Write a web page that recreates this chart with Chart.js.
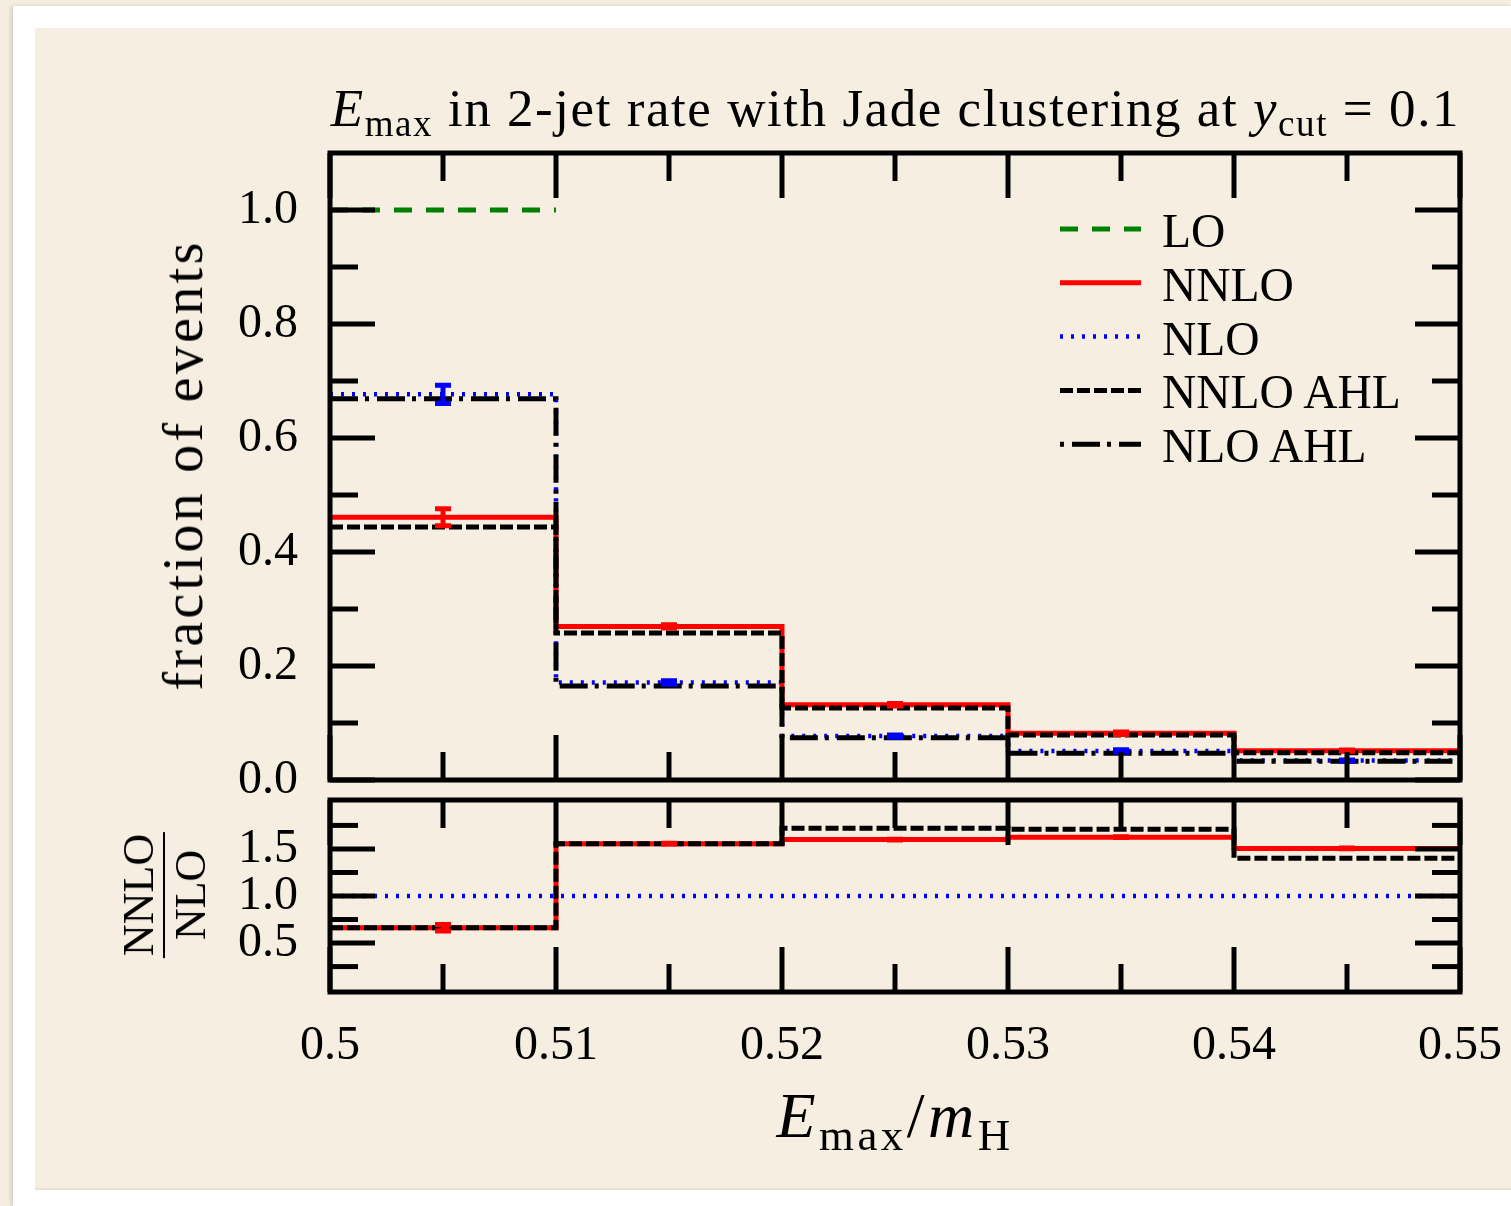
<!DOCTYPE html>
<html><head><meta charset="utf-8">
<script src="https://cdn.jsdelivr.net/npm/chart.js@4.4.1/dist/chart.umd.min.js"></script>
<style>
html,body{margin:0;padding:0;}
body{width:1511px;height:1206px;background:#f5eee0;position:relative;overflow:hidden;font-family:"Liberation Serif","DejaVu Serif",serif;color:#000;}
#frame{position:absolute;left:13px;top:6px;width:1498px;height:1200px;background:#fff;box-shadow:-2px 0 4px rgba(0,0,0,0.15);}
#panel{position:absolute;left:35px;top:28px;width:1476px;height:1160px;background:#f6efe1;border-bottom:2px solid #e9e1d3;}
canvas{position:absolute;left:0;}
#cMain{top:0;}
#cRatio{top:790px;}
.txt{position:absolute;white-space:nowrap;line-height:1;}
#title{right:51px;top:82px;font-size:53px;letter-spacing:1.55px;}
#title sub, #xlab sub{font-size:0.7em;vertical-align:-0.28em;line-height:0;}
#ylab{left:183px;top:465px;font-size:56px;letter-spacing:3.3px;transform:translate(-50%,-50%) rotate(-90deg);}
#rlab{left:165px;top:895px;font-size:44px;transform:translate(-50%,-50%) rotate(-90deg);text-align:center;}
#rlab .num{display:block;padding:0 2px 2px 2px;border-bottom:2px solid #000;}
#rlab .den{display:block;padding-top:4px;}
#xlab{left:895px;top:1084px;font-size:64px;letter-spacing:3.5px;transform:translateX(-50%);}
.leg{position:absolute;left:1162px;font-size:47.5px;white-space:nowrap;line-height:1;}
</style>
</head><body>
<div id="frame"></div>
<div id="panel"></div>
<canvas id="cMain" width="1511" height="830"></canvas>
<canvas id="cRatio" width="1511" height="416"></canvas>
<div class="txt" id="title"><i>E</i><sub>max</sub> in 2-jet rate with Jade clustering at <i>y</i><sub>cut</sub> = 0.1</div>
<div class="txt" id="ylab">fraction of events</div>
<div class="txt" id="rlab"><span class="num">NNLO</span><span class="den">NLO</span></div>
<div class="txt" id="xlab"><i>E</i><sub>max</sub>/<i>m</i><sub>H</sub></div>
<div id="legendBox"></div>
<script>
// ---------------- data ----------------
const binEdges = [0.50, 0.51, 0.52, 0.53, 0.54, 0.55];
const xTickLabels = ['0.5', '0.51', '0.52', '0.53', '0.54', '0.55'];

const LO       = [1.0, null, null, null, null];
const NNLO     = [0.461, 0.2695, 0.132, 0.082, 0.0515];
const NLO      = [0.6766, 0.171, 0.077, 0.051, 0.034];
const NNLO_AHL = [0.444, 0.258, 0.1265, 0.079, 0.048];
const NLO_AHL  = [0.669, 0.165, 0.074, 0.047, 0.033];
const NNLO_err = [0.015, 0.003, 0.002, 0.002, 0.001];
const NLO_err  = [0.016, 0.003, 0.002, 0.002, 0.001];

const ratioNLO      = [1.0, 1.0, 1.0, 1.0, 1.0];
const ratioNNLO     = [0.663, 1.556, 1.60, 1.625, 1.505];
const ratioNNLO_AHL = [0.663, 1.556, 1.72, 1.71, 1.40];
const ratioNNLO_err = [0.035, 0.004, 0.004, 0.004, 0.004];

const mainYTicks  = [0.0, 0.2, 0.4, 0.6, 0.8, 1.0];
const mainYLabels = ['0.0', '0.2', '0.4', '0.6', '0.8', '1.0'];
const mainYMinor  = [0.1, 0.3, 0.5, 0.7, 0.9];
const ratioYTicks  = [0.5, 1.0, 1.5];
const ratioYLabels = ['0.5', '1.0', '1.5'];
const ratioYMinor  = [0.25, 0.75, 1.25, 1.75];

const legendLabels = ['LO', 'NNLO', 'NLO', 'NNLO AHL', 'NLO AHL'];

// ---------------- styles ----------------
const ST = {
  LO:       {color: '#008000', dash: [18, 14], width: 5, off: 0},
  NNLO:     {color: '#ff0000', dash: [], width: 5, off: 0},
  NLO:      {color: '#0000ff', dash: [3, 8], width: 4.5, off: 0},
  NNLO_AHL: {color: '#000000', dash: [13, 4], width: 5, off: 0},
  NLO_AHL:  {color: '#000000', dash: [28, 7, 4, 8], width: 5, off: 35}
};
const FONT = 'Liberation Serif';
const binCenters = binEdges.slice(0, -1).map((e, i) => (e + binEdges[i + 1]) / 2);

function hist(vals) {
  const pts = [];
  vals.forEach((v, i) => { pts.push({x: binEdges[i], y: v}, {x: binEdges[i + 1], y: v}); });
  return pts;
}
function ds(label, vals, st, order, err) {
  return {label, data: hist(vals), borderColor: st.color, borderWidth: st.width, borderDash: st.dash,
    borderDashOffset: st.dashOffset || 0, borderCapStyle: 'butt', borderJoinStyle: 'miter', pointRadius: 0, fill: false,
    tension: 0, order, errors: err || null};
}

const MAJ = 45, MIN = 28, TW = 5;
const framePlugin = {
  id: 'frameTicks',
  afterDatasetsDraw(chart, args, o) {
    const {ctx, chartArea: a, scales: {x, y}} = chart;
    ctx.save();
    // error bars
    chart.data.datasets.forEach(d => {
      if (!d.errors) return;
      const vals = o.values[d.label];
      ctx.strokeStyle = d.borderColor; ctx.setLineDash([]);
      binCenters.forEach((c, i) => {
        if (vals[i] == null) return;
        const px = x.getPixelForValue(c);
        const y1 = y.getPixelForValue(vals[i] + d.errors[i]);
        const y2 = y.getPixelForValue(vals[i] - d.errors[i]);
        ctx.lineWidth = 5;
        ctx.beginPath(); ctx.moveTo(px, y1); ctx.lineTo(px, y2); ctx.stroke();
        ctx.lineWidth = 5;
        ctx.beginPath();
        ctx.moveTo(px - 8, y1); ctx.lineTo(px + 8, y1);
        ctx.moveTo(px - 8, y2); ctx.lineTo(px + 8, y2);
        ctx.stroke();
      });
    });
    // ticks
    ctx.strokeStyle = '#000'; ctx.lineWidth = TW; ctx.setLineDash([]); ctx.lineCap = 'butt';
    const seg = (x1, y1, x2, y2) => { ctx.beginPath(); ctx.moveTo(x1, y1); ctx.lineTo(x2, y2); ctx.stroke(); };
    binEdges.forEach(v => { const p = x.getPixelForValue(v); seg(p, a.top, p, a.top + MAJ); seg(p, a.bottom, p, a.bottom - MAJ); });
    binCenters.forEach(v => { const p = x.getPixelForValue(v); seg(p, a.top, p, a.top + MIN); seg(p, a.bottom, p, a.bottom - MIN); });
    o.yMajor.forEach(v => { const p = y.getPixelForValue(v); seg(a.left, p, a.left + MAJ, p); seg(a.right, p, a.right - MAJ, p); });
    o.yMinor.forEach(v => { const p = y.getPixelForValue(v); seg(a.left, p, a.left + MIN, p); seg(a.right, p, a.right - MIN, p); });
    ctx.lineJoin = 'miter';
    ctx.strokeRect(a.left, a.top, a.right - a.left, a.bottom - a.top);
    // legend samples
    if (o.legend) {
      const order = [ST.LO, ST.NNLO, ST.NLO, ST.NNLO_AHL, ST.NLO_AHL];
      order.forEach((st, i) => {
        const yy = a.top + 76 + i * 53.8;
        ctx.strokeStyle = st.color; ctx.lineWidth = st.width; ctx.setLineDash(st.dash); ctx.lineDashOffset = st.off;
        seg(a.right - 400, yy, a.right - 319, yy);
      });
    }
    ctx.restore();
  }
};

function zeroPad(s) { s.paddingTop = 0; s.paddingBottom = 0; s.paddingLeft = 0; s.paddingRight = 0; }

function makeOpts(yMin, yMax, yTicks, yLabels, yMinor, pad, showX, legend, vals) {
  return {
    responsive: false, animation: false, devicePixelRatio: 1,
    layout: {padding: pad},
    plugins: {legend: {display: false}, tooltip: {enabled: false},
      frameTicks: {yMajor: yTicks, yMinor: yMinor, legend: legend, values: vals}},
    scales: {
      x: {type: 'linear', min: binEdges[0], max: binEdges[binEdges.length - 1],
        afterBuildTicks: s => { s.ticks = binEdges.map(v => ({value: v})); },
        afterFit: s => { s.height = showX ? 100 : 0; zeroPad(s); },
        grid: {display: false, drawTicks: false}, border: {display: false},
        ticks: {display: showX, padding: 26, maxRotation: 0, autoSkip: false, color: '#000',
          font: {family: FONT, size: 48},
          callback: (v, i) => xTickLabels[i]}},
      y: {type: 'linear', min: yMin, max: yMax,
        afterBuildTicks: s => { s.ticks = yTicks.map(v => ({value: v})); },
        afterFit: s => { s.width = 330; zeroPad(s); },
        grid: {display: false, drawTicks: false}, border: {display: false},
        ticks: {padding: 32, color: '#000', font: {family: FONT, size: 48},
          callback: (v, i) => yLabels[i]}}
    }
  };
}

new Chart(document.getElementById('cMain'), {
  type: 'line',
  data: {datasets: [
    ds('LO', LO, ST.LO, 1),
    ds('NNLO', NNLO, ST.NNLO, 1, NNLO_err),
    ds('NLO', NLO, ST.NLO, 1, NLO_err),
    ds('NNLO AHL', NNLO_AHL, ST.NNLO_AHL, 0),
    ds('NLO AHL', NLO_AHL, ST.NLO_AHL, 0)
  ]},
  options: makeOpts(0, 1.1, mainYTicks, mainYLabels, mainYMinor, {top: 153, right: 51, bottom: 50, left: 0}, false, true,
    {'NNLO': NNLO, 'NLO': NLO}),
  plugins: [framePlugin]
});

new Chart(document.getElementById('cRatio'), {
  type: 'line',
  data: {datasets: [
    ds('NLO', ratioNLO, ST.NLO, 1),
    ds('NNLO', ratioNNLO, ST.NNLO, 1, ratioNNLO_err),
    ds('NNLO AHL', ratioNNLO_AHL, ST.NNLO_AHL, 0)
  ]},
  options: makeOpts(-0.02, 2.02, ratioYTicks, ratioYLabels, ratioYMinor, {top: 10, right: 51, bottom: 114, left: 0}, true, false,
    {'NNLO': ratioNNLO}),
  plugins: [framePlugin]
});

// legend texts
const lb = document.getElementById('legendBox');
legendLabels.forEach((t, i) => {
  const d = document.createElement('div');
  d.className = 'leg';
  d.textContent = t;
  d.style.top = (229 + i * 53.8 - 21) + 'px';
  lb.appendChild(d);
});
</script>
</body></html>
